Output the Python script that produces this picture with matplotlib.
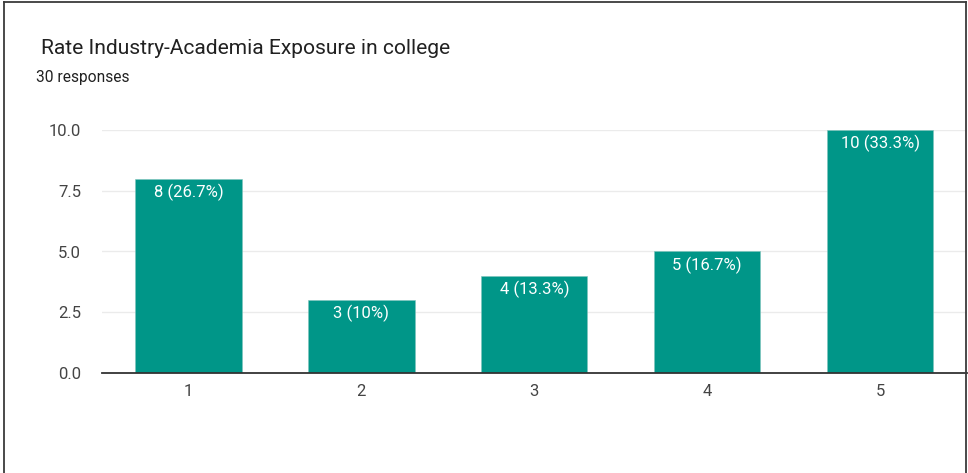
import matplotlib
matplotlib.use("Agg")
import matplotlib.pyplot as plt
from matplotlib.lines import Line2D

categories = ["1", "2", "3", "4", "5"]
counts = [8, 3, 4, 5, 10]
labels = ["8 (26.7%)", "3 (10%)", "4 (13.3%)", "5 (16.7%)", "10 (33.3%)"]
yticks = [0.0, 2.5, 5.0, 7.5, 10.0]
title = "Rate Industry-Academia Exposure in college"
subtitle = "30 responses"

plt.rcParams['font.family'] = ['Roboto', 'DejaVu Sans']

W, H = 968, 473
fig = plt.figure(figsize=(W / 100, H / 100), dpi=100)
fig.patch.set_facecolor("white")

def fx(px):
    return px / W

def fy(py):
    return 1 - py / H

ax = fig.add_axes([fx(102), fy(373), fx(966.5) - fx(102), fy(130) - fy(373)])
x = list(range(len(categories)))
bars = ax.bar(x, counts, width=0.615, color="#009688", edgecolor="#7fc4bc",
              linewidth=0.4, zorder=3)
ax.set_xlim(-0.5, len(categories) - 0.5)
ax.set_ylim(0, 10)
ax.set_yticks(yticks)
ax.set_yticklabels([f"{v:.1f}" for v in yticks])
ax.set_xticks(x)
ax.set_xticklabels(categories)
ax.tick_params(axis="both", length=0, labelsize=12, colors="#444444")
ax.tick_params(axis="y", pad=15)
ax.tick_params(axis="x", pad=8)
for s in ["top", "right", "left"]:
    ax.spines[s].set_visible(False)
ax.spines["bottom"].set_color("#333333")
ax.spines["bottom"].set_linewidth(1.3)
ax.spines["bottom"].set_zorder(4)
ax.grid(axis="y", color="#ebebeb", linewidth=1.0, zorder=0)
ax.set_axisbelow(True)

for xi, c, lab in zip(x, counts, labels):
    ax.annotate(lab, (xi, c), xytext=(0, -3.5), textcoords="offset points",
                ha="center", va="top", color="white", fontsize=12, zorder=5)

fig.text(fx(41), fy(48), title, fontsize=15.1, color="#212121", va="center", ha="left")
fig.text(fx(36), fy(77), subtitle, fontsize=11.2, color="#212121", va="center", ha="left")

# outer frame
for (x0, y0, x1, y1) in [(4, 2, 4, 480), (4, 2, 966, 2), (966, 2, 966, 480)]:
    fig.add_artist(Line2D([fx(x0), fx(x1)], [fy(y0), fy(y1)], color="#3a3a3a",
                          linewidth=1.3, transform=fig.transFigure))

fig.savefig("out.png", dpi=100, facecolor="white")
